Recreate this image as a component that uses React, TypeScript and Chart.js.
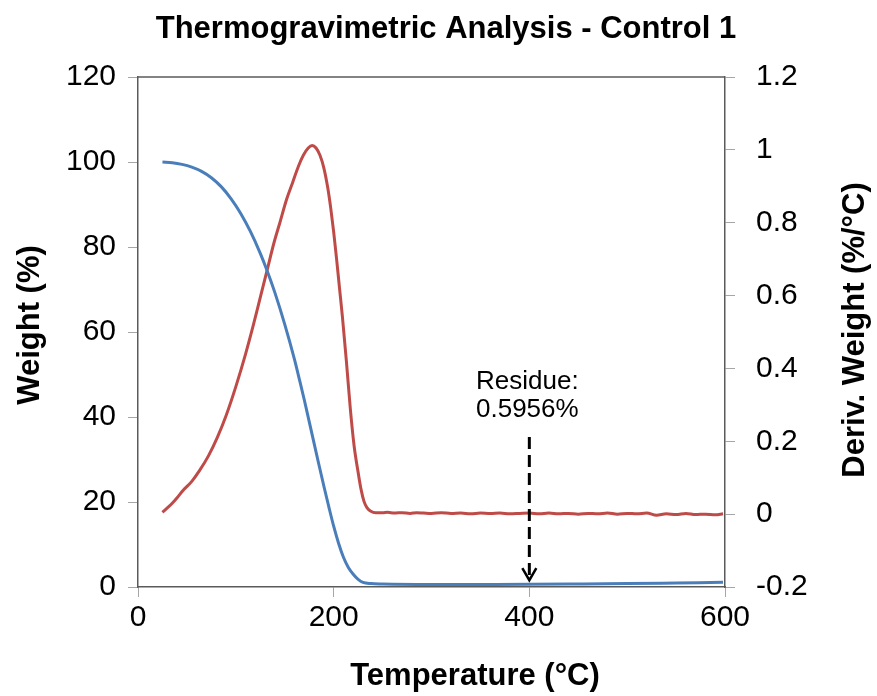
import React, { useEffect, useRef } from 'react';
import { Chart, registerables } from 'chart.js';

Chart.register(...registerables);

// ---- Data ----
const weightTemps = [25, 35, 45, 55, 65, 75, 85, 95, 105, 115, 125, 132, 140, 150, 160, 165, 170, 175, 180, 185, 190, 195, 200, 205, 210, 215, 220, 225, 230, 238, 250, 300, 350, 400, 450, 500, 550, 598];
const weightValues = [100, 99.85, 99.45, 98.8, 97.8, 96.3, 94.2, 91.4, 87.9, 83.6, 78.5, 74.4, 69.2, 61.8, 53.5, 48.8, 44.0, 38.9, 33.8, 28.7, 23.7, 18.9, 14.3, 10.3, 7.0, 4.6, 3.0, 1.8, 1.1, 0.8, 0.7, 0.6, 0.6, 0.62, 0.7, 0.8, 0.95, 1.1];

const derivTemps = [25, 30, 35, 40, 46, 55, 63, 72, 81, 90, 100, 110, 118, 125, 132, 139, 145, 152, 158, 164, 169, 174, 178, 182, 186, 190, 194, 197, 200, 203, 206, 209, 213, 217, 221, 225, 228, 231, 234, 238, 243, 250, 255, 262, 270, 278, 285, 292, 300, 310, 320, 330, 340, 350, 360, 370, 380, 390, 400, 410, 420, 430, 440, 450, 460, 470, 480, 490, 500, 510, 520, 530, 540, 550, 560, 570, 580, 590, 598];
const derivValues = [0.005, 0.017, 0.03, 0.045, 0.065, 0.09, 0.12, 0.16, 0.21, 0.27, 0.35, 0.44, 0.52, 0.595, 0.67, 0.745, 0.8, 0.865, 0.91, 0.955, 0.985, 1.005, 1.012, 1.005, 0.985, 0.95, 0.895, 0.84, 0.775, 0.7, 0.62, 0.54, 0.42, 0.29, 0.185, 0.115, 0.068, 0.035, 0.018, 0.008, 0.004, 0.004, 0.005, 0.003, 0.004, 0.002, 0.004, 0.003, 0.002, 0.004, 0.002, 0.003, 0.001, 0.003, 0.002, 0.003, 0.001, 0.002, 0.003, 0.001, 0.003, 0.001, 0.002, 0.0, 0.002, 0.001, 0.003, 0.0, 0.002, 0.001, 0.003, -0.003, 0.001, -0.001, 0.002, -0.001, 0.0, -0.002, 0.001];

const xTickValues = [0, 200, 400, 600];
const weightTicks = [0, 20, 40, 60, 80, 100, 120];
const derivTicks = [-0.2, 0, 0.2, 0.4, 0.6, 0.8, 1, 1.2];

const titleText = 'Thermogravimetric Analysis - Control 1';
const xTitle = 'Temperature (°C)';
const yTitle = 'Weight (%)';
const y2Title = 'Deriv. Weight (%/°C)';
const residueLines = ['Residue:', '0.5956%'];
const residueTemp = 400;
const arrowFromWeight = 35.3;
const arrowToWeight = 1.6;
const residueTextWeights = [48.3, 41.8];

const FONT = '"Liberation Sans", Arial, sans-serif';
const BLUE = '#4A7EBB';
const RED = '#BE4B48';
const FRAME = '#5a5a5a';
const TICK = '#a6a6a6';

const overlay = {
  id: 'overlay',
  afterDraw(chart: any) {
    const { ctx, chartArea: a, scales } = chart;
    ctx.save();
    // top frame line
    ctx.strokeStyle = FRAME;
    ctx.lineWidth = 1.5;
    ctx.beginPath();
    ctx.moveTo(a.left, a.top);
    ctx.lineTo(a.right, a.top);
    ctx.stroke();

    // residue arrow
    const x = scales.x.getPixelForValue(residueTemp);
    const yFrom = scales.y.getPixelForValue(arrowFromWeight);
    const yTo = scales.y.getPixelForValue(arrowToWeight);
    ctx.strokeStyle = '#000';
    ctx.lineWidth = 3;
    ctx.setLineDash([12, 6]);
    ctx.beginPath();
    ctx.moveTo(x, yFrom);
    ctx.lineTo(x, yTo - 4);
    ctx.stroke();
    ctx.setLineDash([]);
    ctx.lineWidth = 2.5;
    ctx.beginPath();
    ctx.moveTo(x - 7, yTo - 12);
    ctx.lineTo(x, yTo);
    ctx.lineTo(x + 7, yTo - 12);
    ctx.stroke();

    ctx.fillStyle = '#000';
    ctx.textAlign = 'center';
    ctx.textBaseline = 'middle';
    ctx.font = `26px ${FONT}`;
    residueLines.forEach((t, i) => {
      ctx.fillText(t, x - 2, scales.y.getPixelForValue(residueTextWeights[i]));
    });

    // titles
    ctx.font = `bold 31px ${FONT}`;
    ctx.fillText(titleText, 446, 29);
    ctx.fillText(xTitle, 475, 676);
    ctx.save();
    ctx.translate(30, 325);
    ctx.rotate(-Math.PI / 2);
    ctx.fillText(yTitle, 0, 0);
    ctx.restore();
    ctx.save();
    ctx.translate(855, 330);
    ctx.rotate(-Math.PI / 2);
    ctx.fillText(y2Title, 0, 0);
    ctx.restore();
    ctx.restore();
  },
};

export default function App() {
  const ref = useRef<HTMLCanvasElement>(null);
  useEffect(() => {
    document.body.style.margin = '0';
    const tickFont = { family: FONT, size: 30 };
    const chart = new Chart(ref.current!, {
      type: 'line',
      data: {
        datasets: [
          {
            label: 'Weight',
            data: weightTemps.map((t, i) => ({ x: t, y: weightValues[i] })),
            borderColor: BLUE,
            borderWidth: 3,
            pointRadius: 0,
            cubicInterpolationMode: 'monotone',
            yAxisID: 'y',
          },
          {
            label: 'Deriv. Weight',
            data: derivTemps.map((t, i) => ({ x: t, y: derivValues[i] })),
            borderColor: RED,
            borderWidth: 3,
            pointRadius: 0,
            cubicInterpolationMode: 'monotone',
            yAxisID: 'y1',
          },
        ],
      },
      options: {
        animation: false,
        responsive: false,
        layout: { padding: { top: 77, left: 0, right: 0, bottom: 0 } },
        plugins: { legend: { display: false }, tooltip: { enabled: false }, title: { display: false } },
        scales: {
          x: {
            type: 'linear',
            min: 0,
            max: 600,
            afterBuildTicks: (s: any) => { s.ticks = xTickValues.map((v) => ({ value: v })); },
            afterFit: (s: any) => { s.height = 109; },
            ticks: { font: tickFont, color: '#000', padding: 3, maxRotation: 0 },
            grid: { drawOnChartArea: false, drawTicks: true, tickLength: 10, color: TICK },
            border: { display: true, color: FRAME, width: 1.5 },
          },
          y: {
            type: 'linear',
            position: 'left',
            min: 0,
            max: 120,
            afterBuildTicks: (s: any) => { s.ticks = weightTicks.map((v) => ({ value: v })); },
            afterFit: (s: any) => { s.width = 138; },
            ticks: { font: tickFont, color: '#000', padding: 12 },
            grid: { drawOnChartArea: false, drawTicks: true, tickLength: 10, color: TICK },
            border: { display: true, color: FRAME, width: 1.5 },
          },
          y1: {
            type: 'linear',
            position: 'right',
            min: -0.2,
            max: 1.2,
            afterBuildTicks: (s: any) => { s.ticks = derivTicks.map((v) => ({ value: v })); },
            afterFit: (s: any) => { s.width = 152; },
            ticks: {
              font: tickFont,
              color: '#000',
              padding: 21,
              callback: (v: any) => String(Number(Number(v).toFixed(1))),
            },
            grid: { drawOnChartArea: false, drawTicks: true, tickLength: 10, color: TICK },
            border: { display: true, color: FRAME, width: 1.5 },
          },
        },
      },
      plugins: [overlay],
    } as any);
    return () => chart.destroy();
  }, []);
  return (
    <div style={{ width: 877, height: 696 }}>
      <canvas ref={ref} width={877} height={696} style={{ display: 'block' }} />
    </div>
  );
}
